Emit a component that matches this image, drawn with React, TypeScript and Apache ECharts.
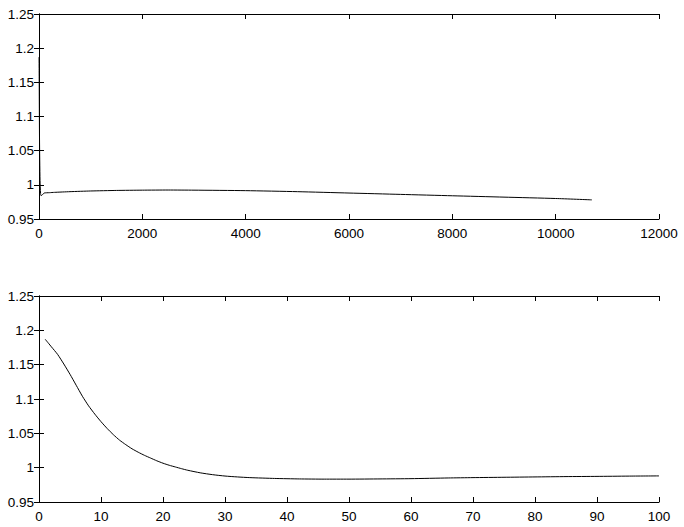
import React, { useEffect, useRef } from "react";
import * as echarts from "echarts";

// Top subplot: full run (iteration, value)
const topX = [1, 3, 5, 10, 20, 30, 40, 60, 100, 200, 300, 600, 1000, 1500, 2000, 2500, 3000, 4000, 5000, 6000, 7000, 8000, 9000, 10000, 10700];
const topY = [1.187, 1.165, 1.136, 1.067, 1.0065, 0.9878, 0.9841, 0.985, 0.988, 0.9885, 0.989, 0.990, 0.991, 0.9918, 0.9922, 0.9924, 0.9922, 0.9915, 0.990, 0.988, 0.986, 0.984, 0.982, 0.980, 0.978];

// Bottom subplot: first 100 iterations
const botX = [1, 2, 3, 4, 5, 6, 7, 8, 9, 10, 11, 12, 13, 14, 15, 16, 17, 18, 19, 20, 21, 22, 23, 24, 26, 28, 30, 32, 34, 38, 42, 46, 50, 55, 60, 66, 70, 75, 80, 85, 90, 95, 100];
const botY = [1.187, 1.176, 1.165, 1.151, 1.136, 1.120, 1.104, 1.090, 1.078, 1.067, 1.057, 1.048, 1.040, 1.0335, 1.0275, 1.0225, 1.018, 1.014, 1.010, 1.0065, 1.0035, 1.001, 0.9985, 0.9962, 0.9925, 0.9898, 0.9878, 0.9865, 0.9855, 0.9843, 0.9836, 0.9833, 0.9833, 0.9836, 0.984, 0.985, 0.9855, 0.986, 0.9865, 0.987, 0.9873, 0.9877, 0.988];

const topXTicks = { min: 0, max: 12000, interval: 2000 };
const botXTicks = { min: 0, max: 100, interval: 10 };
const yTicks = { min: 0.95, max: 1.25, interval: 0.05 };

const FONT = "Liberation Sans";

function fmt(v: number) {
  return String(+v.toFixed(2));
}

export default function App() {
  const ref = useRef<HTMLDivElement>(null);
  useEffect(() => {
    if (!ref.current) return;
    const chart = echarts.init(ref.current, null, { renderer: "svg" });
    const axisLine = { show: true, lineStyle: { color: "#000", width: 1 } };
    const tick = { show: true, inside: true, length: 5, lineStyle: { color: "#000", width: 1 } };
    const label = { color: "#000", fontSize: 13.5, fontFamily: FONT, formatter: (v: number) => fmt(v) };
    const mkX = (g: number, t: any, pos: "bottom" | "top", show: boolean) => ({
      type: "value",
      gridIndex: g,
      position: pos,
      min: t.min,
      max: t.max,
      interval: t.interval,
      axisLine,
      axisTick: tick,
      axisLabel: show ? { ...label, margin: 7 } : { show: false },
      splitLine: { show: false },
    });
    const mkY = (g: number, pos: "left" | "right", show: boolean) => ({
      type: "value",
      gridIndex: g,
      position: pos,
      min: yTicks.min,
      max: yTicks.max,
      interval: yTicks.interval,
      axisLine,
      axisTick: tick,
      axisLabel: show ? { ...label, margin: 5 } : { show: false },
      splitLine: { show: false },
    });
    chart.setOption({
      animation: false,
      backgroundColor: "#fff",
      grid: [
        { left: 39, top: 14, width: 620, height: 205 },
        { left: 39, top: 296, width: 620, height: 206 },
      ],
      xAxis: [
        mkX(0, topXTicks, "bottom", true),
        mkX(0, topXTicks, "top", false),
        mkX(1, botXTicks, "bottom", true),
        mkX(1, botXTicks, "top", false),
      ],
      yAxis: [mkY(0, "left", true), mkY(0, "right", false), mkY(1, "left", true), mkY(1, "right", false)],
      series: [
        {
          type: "line",
          xAxisIndex: 0,
          yAxisIndex: 0,
          data: topX.map((x, i) => [x, topY[i]]),
          showSymbol: false,
          lineStyle: { color: "#000", width: 1 },
          smooth: 0.2,
        },
        {
          type: "line",
          xAxisIndex: 2,
          yAxisIndex: 2,
          data: botX.map((x, i) => [x, botY[i]]),
          showSymbol: false,
          lineStyle: { color: "#000", width: 1 },
          smooth: 0.2,
        },
      ],
    });
    return () => chart.dispose();
  }, []);
  return <div ref={ref} style={{ position: "fixed", left: 0, top: 0, width: 684, height: 527 }} />;
}
